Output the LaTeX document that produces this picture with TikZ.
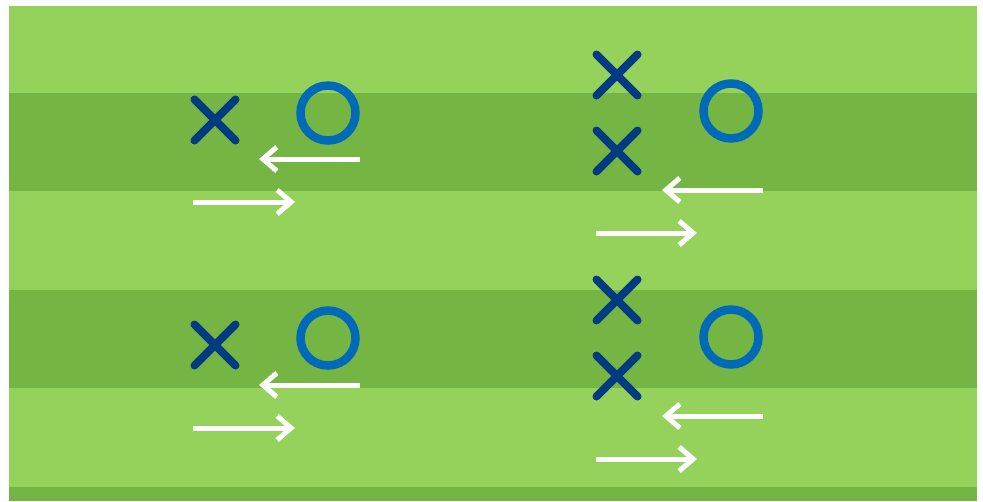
\documentclass[tikz,border=0pt]{standalone}
\usetikzlibrary{arrows.meta}
\usetikzlibrary{calc}

\definecolor{grasslight}{RGB}{148,210,92}
\definecolor{grassdark}{RGB}{116,181,68}
\definecolor{xnavy}{RGB}{0,58,128}
\definecolor{oblue}{RGB}{0,106,184}

\begin{document}
\begin{tikzpicture}[x=1pt, y=-1pt,
	xline/.style={draw=xnavy, line width=8pt, line cap=round},
	omark/.style={circle, draw=oblue, line width=8.5pt, minimum size=55pt, inner sep=0pt},
	run/.style={draw=white, line width=5pt, -{Straight Barb[length=14pt, width=24pt]}}]

	\useasboundingbox[fill=white] (0, 0) rectangle (983, 501);

	% field
	\fill[grasslight] (9, 6) rectangle (977, 501);
	\fill[grassdark] (9, 93) rectangle (977, 191);
	\fill[grassdark] (9, 290) rectangle (977, 388);
	\fill[grassdark] (9, 487) rectangle (977, 501);

	% players
	\coordinate (xa) at (215, 120);
	\coordinate (xb) at (617, 75);
	\coordinate (xc) at (617, 151);
	\coordinate (xd) at (215, 345);
	\coordinate (xe) at (617, 300);
	\coordinate (xf) at (617, 376);

	\foreach \p in {xa, xb, xc, xd, xe, xf} {
		\draw[xline] ($(\p)+(-20.5,-20.5)$) -- ($(\p)+(20.5,20.5)$);
		\draw[xline] ($(\p)+(-20.5,20.5)$) -- ($(\p)+(20.5,-20.5)$);
	}

	\node[omark] (oa) at (328, 113) {};
	\node[omark] (ob) at (731, 111) {};
	\node[omark] (oc) at (328, 338) {};
	\node[omark] (od) at (731, 337) {};

	% runs
	\coordinate (la0) at (360, 159);
	\coordinate (la1) at (259, 159);
	\coordinate (ra0) at (193, 202);
	\coordinate (ra1) at (295, 202);

	\coordinate (lb0) at (763, 190);
	\coordinate (lb1) at (662, 190);
	\coordinate (rb0) at (596, 233);
	\coordinate (rb1) at (697, 233);

	\coordinate (lc0) at (360, 385);
	\coordinate (lc1) at (259, 385);
	\coordinate (rc0) at (193, 428);
	\coordinate (rc1) at (295, 428);

	\coordinate (ld0) at (763, 416);
	\coordinate (ld1) at (662, 416);
	\coordinate (rd0) at (596, 459);
	\coordinate (rd1) at (697, 459);

	\draw[run] (la0) -- (la1);
	\draw[run] (ra0) -- (ra1);
	\draw[run] (lb0) -- (lb1);
	\draw[run] (rb0) -- (rb1);
	\draw[run] (lc0) -- (lc1);
	\draw[run] (rc0) -- (rc1);
	\draw[run] (ld0) -- (ld1);
	\draw[run] (rd0) -- (rd1);

\end{tikzpicture}
\end{document}
